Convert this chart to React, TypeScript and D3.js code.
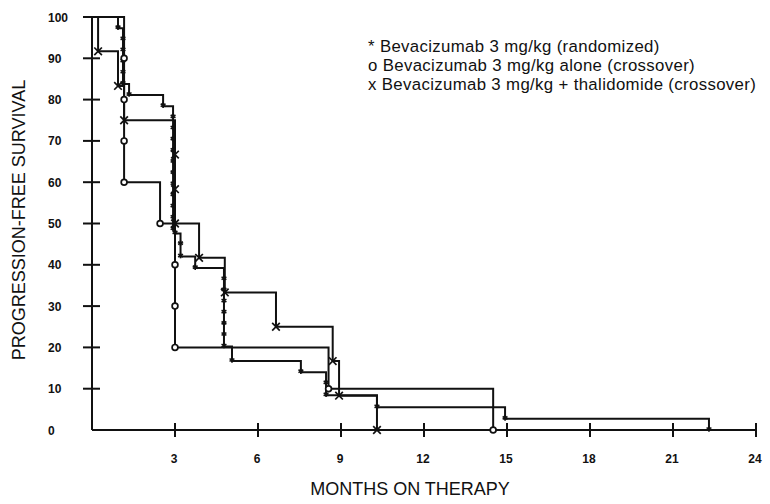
import React from "react";
import * as d3 from "d3";

// Randomized arm (*): [month, survival after event]
const randomizedMonths = [0.94, 1.12, 1.12, 1.12, 1.12, 1.12, 1.34, 2.57, 2.93, 2.93, 2.93, 2.93, 2.93, 2.93, 2.93, 2.93, 2.93, 2.93, 2.93, 3.0, 3.2, 3.2, 3.73, 4.77, 4.77, 4.77, 4.77, 4.77, 4.77, 4.77, 5.06, 7.55, 8.46, 8.46, 10.3, 14.93, 22.3];
const randomizedSurvival = [97.3, 94.6, 91.9, 89.2, 86.5, 83.8, 81.1, 78.4, 75.7, 73.0, 70.3, 67.6, 64.9, 62.2, 59.5, 56.8, 54.1, 51.4, 48.6, 47.6, 45.0, 42.0, 39.2, 36.5, 33.8, 31.1, 28.4, 25.7, 23.0, 20.2, 16.7, 14.0, 11.3, 8.4, 5.5, 2.7, 0];

// Crossover alone (o)
const aloneMonths = [1.16, 1.16, 1.16, 1.16, 2.46, 3.0, 3.0, 3.0, 8.55, 14.5];
const aloneSurvival = [90, 80, 70, 60, 50, 40, 30, 20, 10, 0];

// Crossover + thalidomide (x)
const thalMonths = [0.22, 0.94, 1.16, 3.0, 3.0, 3.0, 3.87, 4.8, 6.65, 8.7, 8.93, 10.3];
const thalSurvival = [91.7, 83.3, 75.0, 66.7, 58.3, 50.0, 41.7, 33.3, 25.0, 16.7, 8.3, 0];

const xTicks = [3, 6, 9, 12, 15, 18, 21, 24];
const yTicks = [0, 10, 20, 30, 40, 50, 60, 70, 80, 90, 100];
const legendLines = [
  "* Bevacizumab 3 mg/kg (randomized)",
  "o Bevacizumab 3 mg/kg alone (crossover)",
  "x Bevacizumab 3 mg/kg + thalidomide (crossover)",
];

const W = 770;
const H = 504;
const FONT = "Arial, 'Liberation Sans', Helvetica, sans-serif";
const INK = "#111";

export default function App() {
  const x = d3.scaleLinear().domain([0, 24]).range([92, 756]);
  const y = d3.scaleLinear().domain([0, 100]).range([430, 17]);

  const line = d3
    .line<[number, number]>()
    .x((d) => x(d[0]))
    .y((d) => y(d[1]))
    .curve(d3.curveStepAfter);

  const build = (ms: number[], ss: number[]) => {
    const pts: [number, number][] = [[0, 100]];
    ms.forEach((m, i) => pts.push([m, ss[i]]));
    return pts;
  };

  const randPts = build(randomizedMonths, randomizedSurvival);
  const alonePts = build(aloneMonths, aloneSurvival);
  const thalPts = build(thalMonths, thalSurvival);

  const star = (cx: number, cy: number, k: number) => {
    const r = 2.8;
    const segs = [0, 60, 120].map((a) => {
      const rad = (a * Math.PI) / 180;
      return (
        <line
          key={a}
          x1={cx - r * Math.sin(rad)}
          y1={cy - r * Math.cos(rad)}
          x2={cx + r * Math.sin(rad)}
          y2={cy + r * Math.cos(rad)}
        />
      );
    });
    return (
      <g key={k} stroke={INK} strokeWidth={1.6}>
        {segs}
      </g>
    );
  };

  const cross = (cx: number, cy: number, k: number) => {
    const r = 3.8;
    return (
      <g key={k} stroke={INK} strokeWidth={1.7}>
        <line x1={cx - r} y1={cy - r} x2={cx + r} y2={cy + r} />
        <line x1={cx - r} y1={cy + r} x2={cx + r} y2={cy - r} />
      </g>
    );
  };

  return (
    <svg
      width={W}
      height={H}
      viewBox={`0 0 ${W} ${H}`}
      style={{ position: "absolute", left: 0, top: 0, background: "#fff" }}
    >
      <rect x={0} y={0} width={W} height={H} fill="#fff" />
      {/* axes */}
      <g stroke={INK} strokeWidth={2} fill="none">
        <line x1={x(0)} y1={y(0)} x2={x(0)} y2={y(100)} />
        <line x1={x(0)} y1={y(0)} x2={x(24)} y2={y(0)} />
        {yTicks
          .filter((v) => v > 0)
          .map((v) => (
            <line key={v} x1={x(0) - 9} x2={x(0) + 8} y1={y(v)} y2={y(v)} />
          ))}
        {xTicks.map((v) => (
          <line key={v} x1={x(v)} x2={x(v)} y1={y(0) - 7} y2={y(0) + 7} />
        ))}
      </g>
      {/* tick labels */}
      <g fontFamily={FONT} fontWeight="bold" fontSize={12} fill={INK}>
        {yTicks.map((v) => (
          <text key={v} x={48} y={y(v) + 4.5} textAnchor="start">
            {v}
          </text>
        ))}
        {xTicks.map((v) => (
          <text key={v} x={x(v) - 1} y={463} textAnchor="middle">
            {v}
          </text>
        ))}
      </g>
      {/* axis titles */}
      <text
        x={410}
        y={495}
        textAnchor="middle"
        fontFamily={FONT}
        fontSize={18}
        fill={INK}
      >
        MONTHS ON THERAPY
      </text>
      <text
        transform="translate(25,220) rotate(-90)"
        textAnchor="middle"
        fontFamily={FONT}
        fontSize={18}
        fill={INK}
      >
        PROGRESSION-FREE SURVIVAL
      </text>
      {/* curves */}
      <g fill="none" stroke={INK} strokeWidth={2}>
        <path d={line(thalPts) || ""} />
        <path d={line(alonePts) || ""} />
        <path d={line(randPts) || ""} />
      </g>
      {/* markers */}
      <g>
        {randomizedMonths.map((m, i) => star(x(m), y(randomizedSurvival[i]) - 1, i))}
      </g>
      <g>
        {thalMonths.map((m, i) => cross(x(m), y(thalSurvival[i]), i))}
      </g>
      <g fill="#fff" stroke={INK} strokeWidth={1.7}>
        {aloneMonths.map((m, i) => (
          <circle key={i} cx={x(m)} cy={y(aloneSurvival[i])} r={2.9} />
        ))}
      </g>
      {/* legend */}
      <g fontFamily={FONT} fontSize={16.8} letterSpacing={0.35} fill={INK}>
        {legendLines.map((t, i) => (
          <text key={i} x={368} y={52 + i * 19}>
            {t}
          </text>
        ))}
      </g>
    </svg>
  );
}
